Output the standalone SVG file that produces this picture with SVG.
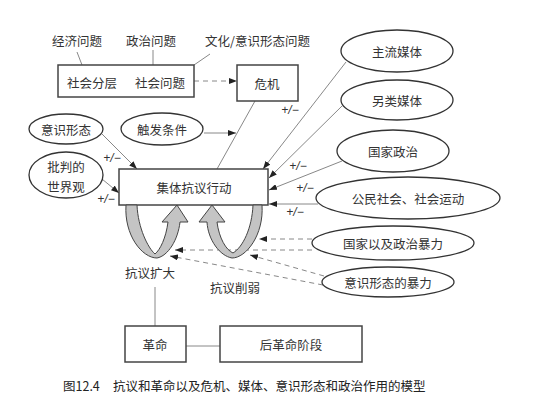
<svg xmlns="http://www.w3.org/2000/svg" width="554" height="415" viewBox="0 0 554 415">
<style>
text{font-family:"Noto Sans CJK SC","Noto Sans",sans-serif;font-size:12.5px;fill:#333;dominant-baseline:central}
.c{text-anchor:middle}
.pm{font-family:"Liberation Sans",sans-serif;font-size:12px;font-style:italic;text-anchor:middle;fill:#333}
.box{fill:#fff;stroke:#444;stroke-width:1.5}
.ell{fill:#fff;stroke:#333;stroke-width:1.3}
.ln{fill:none;stroke:#888;stroke-width:1}
.ar{fill:none;stroke:#888;stroke-width:1;marker-end:url(#ah)}
.da{fill:none;stroke:#888;stroke-width:1;stroke-dasharray:5 4;marker-end:url(#ah)}
.loop{fill:#c4c4c4;stroke:#444;stroke-width:1}
.cap{font-size:12.5px;fill:#222}
</style>
<defs>
<marker id="ah" markerUnits="userSpaceOnUse" markerWidth="8" markerHeight="6" refX="8" refY="3" orient="auto"><path d="M0,0 L8,3 L0,6 z" fill="#222"/></marker>
</defs>
<rect width="554" height="415" fill="#fff"/>

<g id="connectors">
<line class="ln" x1="77" y1="52" x2="82" y2="65"/>
<line class="ln" x1="153" y1="50" x2="153" y2="65"/>
<line class="ln" x1="210" y1="54" x2="194" y2="65"/>
<line class="da" x1="194" y1="81" x2="237" y2="81"/>
<line class="ln" x1="255" y1="101" x2="217" y2="169"/>
<line class="ar" x1="204" y1="133" x2="236" y2="133"/>
<line class="ar" x1="102" y1="134" x2="137" y2="169"/>
<line class="ar" x1="102" y1="179" x2="119" y2="193"/>
<line class="ar" x1="346" y1="62" x2="263" y2="169"/>
<line class="ar" x1="342" y1="106" x2="269" y2="178"/>
<line class="ar" x1="342" y1="161" x2="269" y2="190"/>
<line class="ar" x1="318" y1="204" x2="269" y2="204"/>
<line class="da" x1="312" y1="239" x2="259" y2="239"/>
<line class="da" x1="312" y1="250" x2="175" y2="250"/>
<line class="da" x1="324" y1="276" x2="250" y2="255"/>
<line class="da" x1="323" y1="285" x2="170" y2="256"/>
<line class="ln" x1="155" y1="287" x2="155" y2="326"/>
<line class="ln" x1="186" y1="346" x2="220" y2="346"/>
<text class="pm" x="112" y="158">+/−</text>
<text class="pm" x="106" y="199">+/−</text>
<text class="pm" x="290" y="110">+/−</text>
<text class="pm" x="298" y="166">+/−</text>
<text class="pm" x="305" y="188">+/−</text>
<text class="pm" x="295" y="212">+/−</text>
</g>

<g id="issues">
<text x="52" y="40">经济问题</text>
<text x="126" y="40">政治问题</text>
<text x="205" y="40">文化/意识形态问题</text>
</g>

<g id="social">
<rect class="box" x="58" y="65" width="136" height="32"/>
<text x="67" y="82">社会分层</text>
<text x="135" y="82">社会问题</text>
</g>

<g id="crisis">
<rect class="box" x="237" y="65" width="61" height="36"/>
<text class="c" x="267" y="83">危机</text>
</g>

<g id="ideology">
<ellipse class="ell" cx="66" cy="129" rx="37" ry="15"/>
<text class="c" x="66" y="129">意识形态</text>
</g>

<g id="trigger">
<ellipse class="ell" cx="162" cy="129" rx="41" ry="16"/>
<text class="c" x="162" y="129">触发条件</text>
</g>

<g id="worldview">
<ellipse class="ell" cx="66" cy="175" rx="37" ry="23"/>
<text class="c" x="66" y="166">批判的</text>
<text class="c" x="66" y="186">世界观</text>
</g>

<g id="collective">
<rect class="box" x="119" y="169" width="149" height="36"/>
<text class="c" x="194" y="187">集体抗议行动</text>
</g>

<g id="mainstream">
<ellipse class="ell" cx="397" cy="51" rx="56" ry="21"/>
<text class="c" x="397" y="51">主流媒体</text>
</g>

<g id="alternative">
<ellipse class="ell" cx="397" cy="100" rx="56" ry="20"/>
<text class="c" x="397" y="100">另类媒体</text>
</g>

<g id="statepolitics">
<ellipse class="ell" cx="393" cy="151" rx="56" ry="21"/>
<text class="c" x="393" y="151">国家政治</text>
</g>

<g id="civil">
<ellipse class="ell" cx="408" cy="198" rx="92" ry="21"/>
<text class="c" x="408" y="198">公民社会、社会运动</text>
</g>

<g id="stateviolence">
<ellipse class="ell" cx="393" cy="243" rx="81" ry="17"/>
<text class="c" x="393" y="243">国家以及政治暴力</text>
</g>

<g id="ideoviolence">
<ellipse class="ell" cx="388" cy="282" rx="66" ry="15"/>
<text class="c" x="388" y="282">意识形态的暴力</text>
</g>

<g id="loop-expand">
<path class="loop" d="M126,205 C124,235 142,258 157,258 C168,256 178,240 180,222 L188,222 L177,205 L162,222 L168,222 C166,238 160,250 155,254 C148,248 138,228 137,205 Z"/>
</g>

<g id="loop-weaken">
<path class="loop" d="M262,205 C264,235 246,258 232,258 C220,256 208,240 207,222 L199,222 L212,205 L225,222 L217,222 C219,238 226,250 233,253 C243,247 252,228 253,205 Z"/>
</g>

<g id="labels">
<text class="c" x="150" y="272">抗议扩大</text>
<text class="c" x="235" y="287">抗议削弱</text>
</g>

<g id="revolution">
<rect class="box" x="125" y="326" width="61" height="36"/>
<text class="c" x="155" y="344">革命</text>
</g>

<g id="postrev">
<rect class="box" x="220" y="326" width="142" height="36"/>
<text class="c" x="291" y="344">后革命阶段</text>
</g>

<g id="caption">
<text class="cap" x="63" y="385">图12.4</text>
<text class="cap" x="113" y="385">抗议和革命以及危机、媒体、意识形态和政治作用的模型</text>
</g>
</svg>
